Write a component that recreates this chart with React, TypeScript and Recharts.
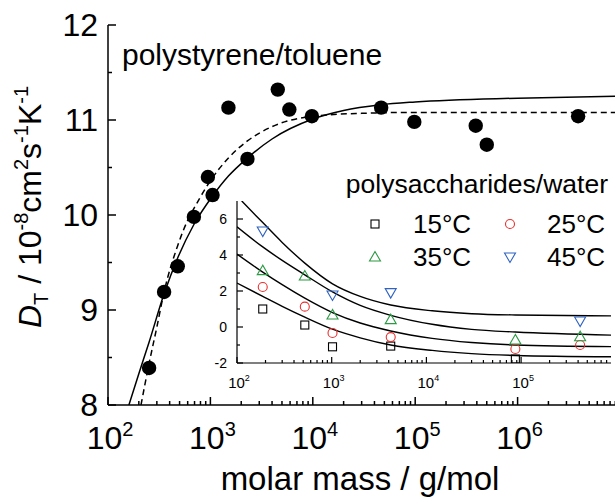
import React from "react";
import { ComposedChart, Line, Scatter, XAxis, YAxis } from "recharts";

const FONT = "'Liberation Sans', Arial, Helvetica, sans-serif";

// ---------- main plot: polystyrene / toluene ----------
const psMass = [252, 353, 480, 690, 945, 1050, 1500, 2300, 4550, 5900, 9800, 46500, 98000, 390000, 500000, 3900000];
const psDT = [8.39, 9.19, 9.46, 9.98, 10.4, 10.21, 11.13, 10.59, 11.32, 11.11, 11.04, 11.13, 10.98, 10.94, 10.74, 11.04];

const fitSolidMass = [160, 200, 250, 353, 480, 690, 1050, 1500, 2300, 4000, 10000, 20000, 46000, 100000, 1000000, 10000000];
const fitSolidDT = [8.0, 8.33, 8.65, 9.17, 9.55, 9.9, 10.2, 10.41, 10.6, 10.8, 11.01, 11.1, 11.16, 11.19, 11.23, 11.25];

const fitDashMass = [210, 250, 300, 353, 480, 545, 780, 1000, 1500, 2300, 4000, 10000, 30000, 100000, 10000000];
const fitDashDT = [8.0, 8.42, 8.82, 9.19, 9.68, 9.84, 10.17, 10.36, 10.6, 10.78, 10.93, 11.04, 11.07, 11.08, 11.08];

const mainDecades = [100, 1000, 10000, 100000, 1000000, 10000000];
const mainLabelDecades = [100, 1000, 10000, 100000, 1000000];
const minorMult = [2, 3, 4, 5, 6, 7, 8, 9];
const mainYTicks = [8, 8.5, 9, 9.5, 10, 10.5, 11, 11.5, 12];
const mainYMajor = [8, 9, 10, 11, 12];

// ---------- inset: polysaccharides / water ----------
const t15Mass = [187, 520, 1020, 4200, 87000];
const t15 = [1.0, 0.11, -1.1, -1.06, -1.78];
const t25Mass = [187, 520, 1020, 4200, 87000, 420000];
const t25 = [2.22, 1.13, -0.33, -0.56, -1.22, -1.0];
const t35Mass = [187, 520, 1020, 4200, 87000, 420000];
const t35 = [3.13, 2.83, 0.67, 0.41, -0.72, -0.54];
const t45Mass = [187, 1020, 4200, 420000];
const t45 = [5.33, 1.78, 1.91, 0.33];

const fitAMass = [112, 187, 300, 520, 1020, 2000, 4200, 11500, 30000, 87000, 890000];
const fitA = [7.0, 5.8, 4.7, 3.55, 2.4, 1.7, 1.22, 0.9, 0.74, 0.67, 0.62];
const fitMass = [100, 187, 300, 520, 1020, 2000, 4200, 11500, 30000, 87000, 890000];
const fitB = [5.57, 4.45, 3.7, 2.9, 1.95, 1.2, 0.65, 0.15, -0.13, -0.28, -0.45];
const fitC = [4.05, 3.05, 2.35, 1.6, 0.8, 0.22, -0.22, -0.63, -0.86, -1.0, -1.09];
const fitD = [2.44, 1.7, 1.15, 0.55, -0.12, -0.6, -1.0, -1.3, -1.48, -1.58, -1.65];

const insetDecades = [100, 1000, 10000, 100000];
const insetMinorMax = 890000;
const insetYTicks = [-2, -1, 0, 1, 2, 3, 4, 5, 6];
const insetYMajor = [-2, 0, 2, 4, 6];

const legendItems = [
  { label: "15°C", color: "#000000", kind: "square" },
  { label: "25°C", color: "#e8302f", kind: "circle" },
  { label: "35°C", color: "#2a9a43", kind: "up" },
  { label: "45°C", color: "#2f62c2", kind: "down" },
];

// ---------- built tables ----------
const zip = (ms: number[], vs: number[]) => ms.map((m, i) => ({ m, v: vs[i] }));
const mainXTicks = mainDecades.flatMap((d, i) =>
  i < mainDecades.length - 1 ? [d, ...minorMult.map((k) => d * k)] : [d]
);
const insetXTicks = insetDecades
  .flatMap((d) => [d, ...minorMult.map((k) => d * k)])
  .filter((v) => v <= insetMinorMax);
const mainDecSet = new Set(mainDecades);
const mainLabelSet = new Set(mainLabelDecades);
const insetDecSet = new Set(insetDecades);
const mainYMajorSet = new Set(mainYMajor);
const insetYMajorSet = new Set(insetYMajor);

// ---------- ticks ----------
const MainBottomTick = (p: any) => {
  const { x, y, payload } = p;
  const v = payload.value;
  const major = mainDecSet.has(v);
  return (
    <g>
      <line x1={x} x2={x} y1={y} y2={y - (major ? 8 : 4)} stroke="#000" strokeWidth={1.5} />
      {mainLabelSet.has(v) && (
        <text x={x + 2} y={y + 44} textAnchor="middle" fontFamily={FONT} fontSize={32} fill="#000">
          10
          <tspan dy={-13} fontSize={20}>{Math.round(Math.log10(v))}</tspan>
        </text>
      )}
    </g>
  );
};
const MainTopTick = (p: any) => {
  const { x, y, payload } = p;
  const major = mainDecSet.has(payload.value);
  return <line x1={x} x2={x} y1={y} y2={y + (major ? 8 : 4)} stroke="#000" strokeWidth={1.5} />;
};
const MainLeftTick = (p: any) => {
  const { x, y, payload } = p;
  const major = mainYMajorSet.has(payload.value);
  return (
    <g>
      <line x1={x} x2={x + (major ? 8 : 4)} y1={y} y2={y} stroke="#000" strokeWidth={1.5} />
      {major && (
        <text x={x - 10} y={y + 11} textAnchor="end" fontFamily={FONT} fontSize={32} fill="#000">
          {payload.value}
        </text>
      )}
    </g>
  );
};
const InsetBottomTick = (p: any) => {
  const { x, y, payload } = p;
  const v = payload.value;
  const major = insetDecSet.has(v);
  return (
    <g>
      <line x1={x} x2={x} y1={y} y2={y - (major ? 6 : 3)} stroke="#000" strokeWidth={1.2} />
      {major && (
        <text x={x + 2} y={y + 25} textAnchor="middle" fontFamily={FONT} fontSize={15} fill="#000">
          10
          <tspan dy={-7} fontSize={9}>{Math.round(Math.log10(v))}</tspan>
        </text>
      )}
    </g>
  );
};
const InsetTopTick = (p: any) => {
  const { x, y, payload } = p;
  const major = insetDecSet.has(payload.value);
  return <line x1={x} x2={x} y1={y} y2={y + (major ? 6 : 3)} stroke="#000" strokeWidth={1.2} />;
};
const InsetLeftTick = (p: any) => {
  const { x, y, payload } = p;
  const major = insetYMajorSet.has(payload.value);
  return (
    <g>
      <line x1={x} x2={x + (major ? 6 : 3)} y1={y} y2={y} stroke="#000" strokeWidth={1.2} />
      {major && (
        <text x={x - 10} y={y + 5} textAnchor="end" fontFamily={FONT} fontSize={14} fill="#000">
          {payload.value}
        </text>
      )}
    </g>
  );
};

// ---------- markers ----------
const marker = (kind: string, color: string, cx: number, cy: number) => {
  if (kind === "square")
    return <rect x={cx - 4} y={cy - 4} width={8} height={8} fill="none" stroke={color} strokeWidth={1.1} />;
  if (kind === "circle") return <circle cx={cx} cy={cy} r={4.5} fill="none" stroke={color} strokeWidth={1.1} />;
  if (kind === "up")
    return (
      <polygon
        points={`${cx},${cy - 5.5} ${cx - 5.5},${cy + 4} ${cx + 5.5},${cy + 4}`}
        fill="none"
        stroke={color}
        strokeWidth={1.1}
      />
    );
  return (
    <polygon
      points={`${cx},${cy + 5.5} ${cx - 5.5},${cy - 4} ${cx + 5.5},${cy - 4}`}
      fill="none"
      stroke={color}
      strokeWidth={1.1}
    />
  );
};
const shapeFor = (kind: string, color: string) => (p: any) => marker(kind, color, p.cx, p.cy);
const Dot = (p: any) => <circle cx={p.cx} cy={p.cy} r={7.2} fill="#000" />;

export default function App() {
  return (
    <div style={{ position: "relative", width: 615, height: 499, overflow: "hidden", background: "#fff" }}>
      <style>{"body{margin:0;overflow:hidden;}"}</style>
      <div style={{ position: "absolute", left: 0, top: 0 }}>
        <ComposedChart width={650} height={499} margin={{ top: 25, right: 30, bottom: 0, left: 0 }}>
          <XAxis
            xAxisId="b"
            dataKey="m"
            type="number"
            scale="log"
            domain={[100, 10000000]}
            allowDataOverflow
            ticks={mainXTicks}
            interval={0}
            height={94}
            tickSize={0}
            tickMargin={0}
            tickLine={false}
            axisLine={{ stroke: "#000", strokeWidth: 1.5 }}
            tick={MainBottomTick}
          />
          <XAxis
            xAxisId="t"
            orientation="top"
            dataKey="m"
            type="number"
            scale="log"
            domain={[100, 10000000]}
            allowDataOverflow
            ticks={mainXTicks}
            interval={0}
            height={0}
            tickSize={0}
            tickMargin={0}
            tickLine={false}
            axisLine={{ stroke: "#000", strokeWidth: 1.5 }}
            tick={MainTopTick}
          />
          <YAxis
            yAxisId="l"
            type="number"
            domain={[8, 12]}
            allowDataOverflow
            ticks={mainYTicks}
            interval={0}
            width={108}
            tickSize={0}
            tickMargin={0}
            tickLine={false}
            axisLine={{ stroke: "#000", strokeWidth: 1.5 }}
            tick={MainLeftTick}
          />
          <Line
            xAxisId="b"
            yAxisId="l"
            data={zip(fitSolidMass, fitSolidDT)}
            dataKey="v"
            type="monotone"
            stroke="#000"
            strokeWidth={1.5}
            dot={false}
            isAnimationActive={false}
          />
          <Line
            xAxisId="b"
            yAxisId="l"
            data={zip(fitDashMass, fitDashDT)}
            dataKey="v"
            type="monotone"
            stroke="#000"
            strokeWidth={1.5}
            strokeDasharray="6 4"
            dot={false}
            isAnimationActive={false}
          />
          <Scatter
            xAxisId="b"
            yAxisId="l"
            data={zip(psMass, psDT)}
            dataKey="v"
            shape={Dot}
            isAnimationActive={false}
          />
        </ComposedChart>
      </div>

      <div style={{ position: "absolute", left: 188, top: 158 }}>
        <ComposedChart width={430} height={250} margin={{ top: 43, right: 7, bottom: 0, left: 0 }}>
          <XAxis
            xAxisId="b"
            dataKey="m"
            type="number"
            scale="log"
            domain={[100, 890000]}
            allowDataOverflow
            ticks={insetXTicks}
            interval={0}
            height={45}
            tickSize={0}
            tickMargin={0}
            tickLine={false}
            axisLine={{ stroke: "#000", strokeWidth: 1.2 }}
            tick={InsetBottomTick}
          />
          <XAxis
            xAxisId="t"
            orientation="top"
            dataKey="m"
            type="number"
            scale="log"
            domain={[100, 890000]}
            allowDataOverflow
            ticks={insetXTicks}
            interval={0}
            height={0}
            tickSize={0}
            tickMargin={0}
            tickLine={false}
            axisLine={{ stroke: "#000", strokeWidth: 1.2 }}
            tick={InsetTopTick}
          />
          <YAxis
            yAxisId="l"
            type="number"
            domain={[-2, 7]}
            allowDataOverflow
            ticks={insetYTicks}
            interval={0}
            width={49}
            tickSize={0}
            tickMargin={0}
            tickLine={false}
            axisLine={{ stroke: "#000", strokeWidth: 1.2 }}
            tick={InsetLeftTick}
          />
          <YAxis
            yAxisId="r"
            orientation="right"
            type="number"
            domain={[-2, 7]}
            allowDataOverflow
            width={0}
            tick={false}
            tickLine={false}
            axisLine={{ stroke: "#000", strokeWidth: 1.2 }}
          />
          {[
            zip(fitAMass, fitA),
            zip(fitMass, fitB),
            zip(fitMass, fitC),
            zip(fitMass, fitD),
          ].map((d, i) => (
            <Line
              key={"fit" + i}
              xAxisId="b"
              yAxisId="l"
              data={d}
              dataKey="v"
              type="monotone"
              stroke="#000"
              strokeWidth={1.4}
              dot={false}
              isAnimationActive={false}
            />
          ))}
          <Scatter xAxisId="b" yAxisId="l" data={zip(t15Mass, t15)} dataKey="v" shape={shapeFor("square", legendItems[0].color)} isAnimationActive={false} />
          <Scatter xAxisId="b" yAxisId="l" data={zip(t25Mass, t25)} dataKey="v" shape={shapeFor("circle", legendItems[1].color)} isAnimationActive={false} />
          <Scatter xAxisId="b" yAxisId="l" data={zip(t35Mass, t35)} dataKey="v" shape={shapeFor("up", legendItems[2].color)} isAnimationActive={false} />
          <Scatter xAxisId="b" yAxisId="l" data={zip(t45Mass, t45)} dataKey="v" shape={shapeFor("down", legendItems[3].color)} isAnimationActive={false} />
        </ComposedChart>
      </div>

      <svg
        width={615}
        height={499}
        style={{ position: "absolute", left: 0, top: 0, pointerEvents: "none" }}
        fontFamily={FONT}
      >
        <text x={122} y={65} fontSize={30} fill="#000">polystyrene/toluene</text>
        <text x={608} y={193} fontSize={26.5} fill="#000" textAnchor="end">polysaccharides/water</text>
        {legendItems.map((it, i) => {
          const col = i % 2;
          const row = Math.floor(i / 2);
          const sx = col === 0 ? 375 : 510;
          const tx = col === 0 ? 413 : 547;
          const sy = 224 + row * 33;
          return (
            <g key={it.label}>
              {marker(it.kind, it.color, sx, sy)}
              <text x={tx} y={sy + 9} fontSize={26} fill="#000">{it.label}</text>
            </g>
          );
        })}
        <text x={360} y={490} fontSize={33} fill="#000" textAnchor="middle">molar mass / g/mol</text>
        <text x={41} y={207} fontSize={32} fill="#000" textAnchor="middle" transform="rotate(-90 41 207)">
          <tspan fontStyle="italic">D</tspan>
          <tspan dy={7} fontSize={20}>T</tspan>
          <tspan dy={-7}> / 10</tspan>
          <tspan dy={-13} fontSize={20}>-8</tspan>
          <tspan dy={13}>cm</tspan>
          <tspan dy={-13} fontSize={20}>2</tspan>
          <tspan dy={13}>s</tspan>
          <tspan dy={-13} fontSize={20}>-1</tspan>
          <tspan dy={13}>K</tspan>
          <tspan dy={-13} fontSize={20}>-1</tspan>
        </text>
      </svg>
    </div>
  );
}
